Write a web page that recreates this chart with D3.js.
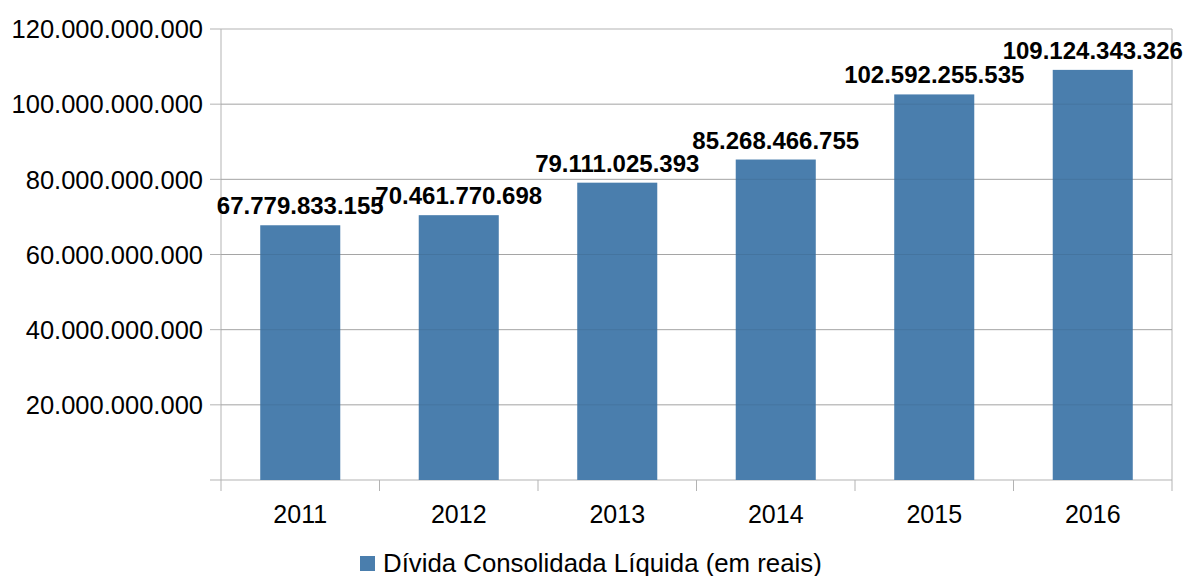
<html>
<head>
<script src="https://d3js.org/d3.v7.min.js"></script>
<style>
  body { margin: 0; background: #fff; }
  svg text { font-family: "Liberation Sans", Arial, sans-serif; fill: #000; }
</style>
</head>
<body>
<div id="chart"></div>
<script>
var years = ["2011", "2012", "2013", "2014", "2015", "2016"];
var divida = [67779833155, 70461770698, 79111025393, 85268466755, 102592255535, 109124343326];
var yTicks = [0, 20000000000, 40000000000, 60000000000, 80000000000, 100000000000, 120000000000];
var seriesName = "Dívida Consolidada Líquida (em reais)";

var width = 1186, height = 576;
var plotLeft = 221, plotRight = 1172, plotTop = 29, plotBottom = 480;

var fmt = function(d) {
  return d3.format(",")(d).replace(/,/g, ".");
};

var svg = d3.select("#chart").append("svg")
  .attr("width", width)
  .attr("height", height);

var x = d3.scaleBand().domain(years).range([plotLeft, plotRight]).paddingInner(0).paddingOuter(0);
var y = d3.scaleLinear().domain([0, 120000000000]).range([plotBottom, plotTop]);

// grid
svg.append("g").selectAll("line")
  .data(yTicks)
  .enter().append("line")
  .attr("x1", plotLeft - 11).attr("x2", plotRight)
  .attr("y1", function(d) { return y(d); })
  .attr("y2", function(d) { return y(d); })
  .attr("stroke", "#b3b3b3")
  .attr("stroke-width", 1);

// vertical axis line and right border
svg.append("line").attr("x1", plotLeft).attr("x2", plotLeft).attr("y1", plotTop).attr("y2", plotBottom + 11)
  .attr("stroke", "#b3b3b3");
svg.append("line").attr("x1", plotRight).attr("x2", plotRight).attr("y1", plotTop).attr("y2", plotBottom + 11)
  .attr("stroke", "#b3b3b3");

// x ticks at band boundaries
svg.append("g").selectAll("line")
  .data(years.slice(1))
  .enter().append("line")
  .attr("x1", function(d) { return x(d); })
  .attr("x2", function(d) { return x(d); })
  .attr("y1", plotBottom).attr("y2", plotBottom + 11)
  .attr("stroke", "#b3b3b3");

// bars
var bw = x.bandwidth() * 0.505;
svg.append("g").selectAll("rect")
  .data(divida)
  .enter().append("rect")
  .attr("x", function(d, i) { return x(years[i]) + (x.bandwidth() - bw) / 2; })
  .attr("y", function(d) { return y(d); })
  .attr("width", bw)
  .attr("height", function(d) { return plotBottom - y(d); })
  .attr("fill", "#4a7ead");

// faint grid over bars
svg.append("g").selectAll("line")
  .data(yTicks.slice(1, 6))
  .enter().append("line")
  .attr("x1", plotLeft).attr("x2", plotRight)
  .attr("y1", function(d) { return y(d); })
  .attr("y2", function(d) { return y(d); })
  .attr("stroke", "#000")
  .attr("stroke-opacity", 0.08);

// y labels
svg.append("g").selectAll("text")
  .data(yTicks.slice(1))
  .enter().append("text")
  .attr("x", 203)
  .attr("y", function(d) { return y(d); })
  .attr("dy", "0.36em")
  .attr("text-anchor", "end")
  .style("font-size", "25.5px")
  .text(fmt);

// x labels
svg.append("g").selectAll("text")
  .data(years)
  .enter().append("text")
  .attr("x", function(d) { return x(d) + x.bandwidth() / 2; })
  .attr("y", 523)
  .attr("text-anchor", "middle")
  .style("font-size", "25px")
  .text(function(d) { return d; });

// value labels
svg.append("g").selectAll("text")
  .data(divida)
  .enter().append("text")
  .attr("x", function(d, i) { return x(years[i]) + x.bandwidth() / 2; })
  .attr("y", function(d) { return y(d) - 11; })
  .attr("text-anchor", "middle")
  .style("font-size", "24px")
  .style("font-weight", "bold")
  .text(fmt);

// legend
svg.append("rect").attr("x", 360).attr("y", 556).attr("width", 15).attr("height", 15).attr("fill", "#4a7ead");
svg.append("text").attr("x", 383).attr("y", 572).style("font-size", "25.8px").text(seriesName);
</script>
</body>
</html>
